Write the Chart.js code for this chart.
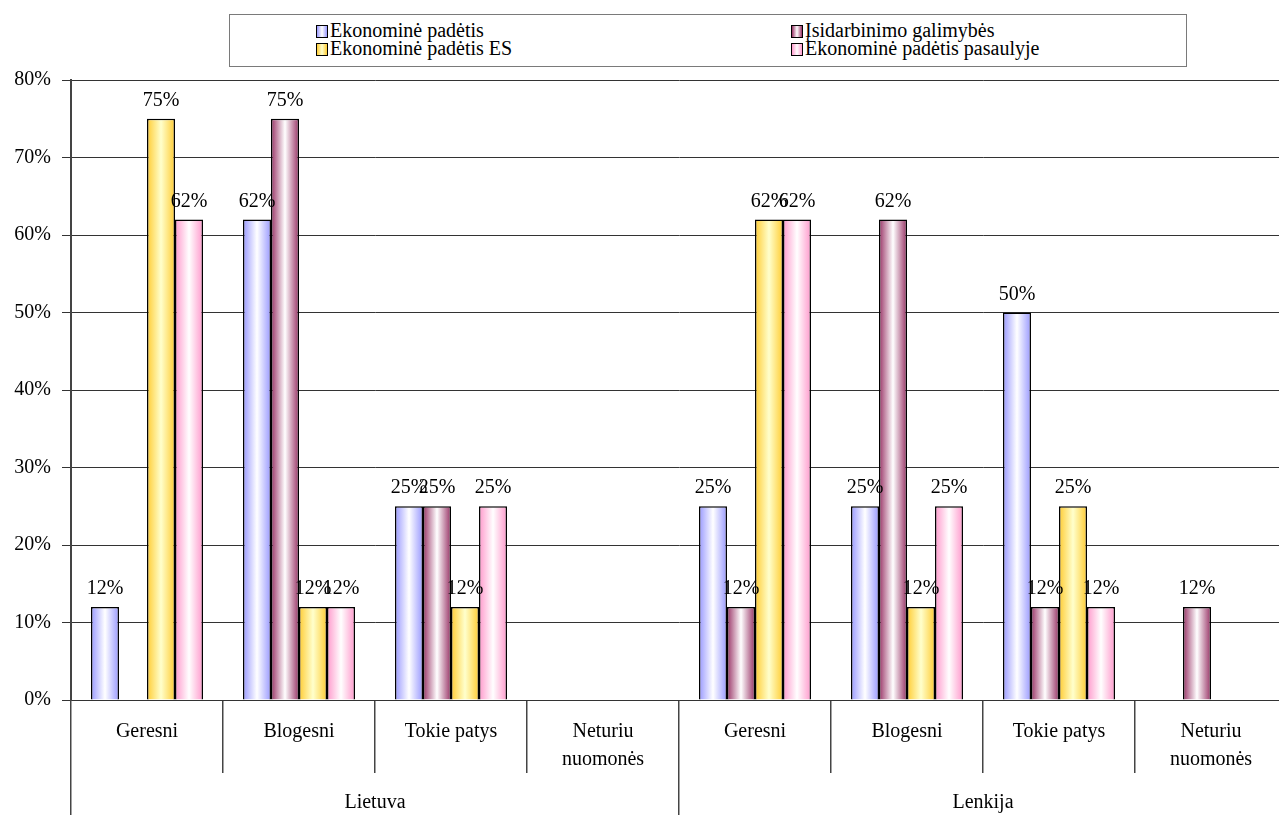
<!DOCTYPE html>
<html lang="lt">

<head>
    <meta charset="UTF-8">
    <title>Ekonominė padėtis</title>
    <script src="https://cdn.jsdelivr.net/npm/chart.js"></script>
    <style>
        body { margin: 0; overflow: hidden; background: #fff; }
        #wrap { position: relative; width: 1290px; height: 815px; }
        #legend {
            position: absolute; left: 229px; top: 14px; width: 956px; height: 51px;
            border: 1px solid #7a7a7a; background: #fff;
            font-family: "Liberation Serif", "Times New Roman", serif; font-size: 20px;
        }
        .item { position: absolute; height: 18px; line-height: 18px; white-space: nowrap; }
        .sw { display: inline-block; width: 10px; height: 11px; border: 1.5px solid #000; margin-right: 2px; vertical-align: -1px; }
    </style>
</head>

<body>
    <div id="wrap">
        <canvas id="chart" width="1290" height="815"></canvas>
        <div id="legend"></div>
    </div>

    <script>
        // kategorijos (apatinė ašis) ir šalys
        const categories = ['Geresni', 'Blogesni', 'Tokie patys', ['Neturiu', 'nuomonės'],
            'Geresni', 'Blogesni', 'Tokie patys', ['Neturiu', 'nuomonės']];
        const countries = ['Lietuva', 'Lenkija'];

        const seriesNames = ['Ekonominė padėtis', 'Įsidarbinimo galimybės', 'Ekonominė padėtis ES', 'Ekonominė padėtis pasaulyje'];

        // reikšmės procentais (null = nėra stulpelio)
        const ekonomine = [12, 62, 25, null, 25, 25, 50, null];
        const isidarbinimo = [null, 75, 25, null, 12, 62, 12, 12];
        const ekonomineES = [75, 12, 12, null, 62, 12, 25, null];
        const pasaulyje = [62, 12, 25, null, 62, 25, 12, null];

        const yTicks = [0, 10, 20, 30, 40, 50, 60, 70, 80];

        // spalvos: kraštas ir vidurys
        const edgeColors = ['#9999ff', '#993366', '#ffcc33', '#ff99cc'];
        const midColors = ['#ffffff', '#ffffff', '#ffffcc', '#ffffff'];

        const font = '"Liberation Serif", "Times New Roman", serif';

        function barFill(i) {
            return function (ctx) {
                const el = ctx.element;
                if (!el || el.x === undefined || !el.width || isNaN(el.x)) return edgeColors[i];
                const g = ctx.chart.ctx.createLinearGradient(el.x - el.width / 2, 0, el.x + el.width / 2, 0);
                g.addColorStop(0, edgeColors[i]);
                g.addColorStop(0.5, midColors[i]);
                g.addColorStop(1, edgeColors[i]);
                return g;
            };
        }

        const allSeries = [ekonomine, isidarbinimo, ekonomineES, pasaulyje];

        const data = {
            labels: categories,
            datasets: allSeries.map(function (vals, i) {
                return {
                    label: seriesNames[i],
                    data: vals,
                    backgroundColor: barFill(i),
                    borderColor: '#000',
                    borderWidth: 1.5,
                    borderSkipped: 'bottom',
                    categoryPercentage: 0.737,
                    barPercentage: 1
                };
            })
        };

        // reikšmių užrašai virš stulpelių
        const valueLabels = {
            id: 'valueLabels',
            afterDatasetsDraw(chart) {
                const c = chart.ctx;
                c.save();
                c.font = '20px ' + font;
                c.fillStyle = '#000';
                c.textAlign = 'center';
                c.textBaseline = 'alphabetic';
                chart.data.datasets.forEach(function (ds, i) {
                    chart.getDatasetMeta(i).data.forEach(function (bar, j) {
                        if (ds.data[j] === null) return;
                        c.fillText(ds.data[j] + '%', bar.x, bar.y - 13);
                    });
                });
                c.restore();
            }
        };

        const chart = new Chart(document.getElementById('chart'), {
            type: 'bar',
            data: data,
            plugins: [valueLabels],
            options: {
                responsive: false,
                animation: false,
                layout: { padding: { top: 80, right: 3, left: 0, bottom: 0 } },
                plugins: { legend: { display: false }, tooltip: { enabled: false } },
                scales: {
                    x: {
                        grid: { offset: true, drawOnChartArea: false, tickLength: 73, color: '#444', lineWidth: 1.5 },
                        border: { display: true, color: '#333', width: 1 },
                        ticks: { font: { family: font, size: 20, lineHeight: 1.4 }, color: '#000', padding: -55, maxRotation: 0, autoSkip: false },
                        afterFit: function (s) { s.height = 73; }
                    },
                    x2: {
                        type: 'category',
                        labels: countries,
                        position: 'bottom',
                        offset: true,
                        grid: { offset: true, drawOnChartArea: false, tickLength: 42, color: '#444', lineWidth: 1.5 },
                        border: { display: false },
                        ticks: { font: { family: font, size: 20 }, color: '#000', padding: -24, maxRotation: 0 },
                        afterFit: function (s) { s.height = 42; }
                    },
                    y: {
                        min: 0,
                        max: 80,
                        afterBuildTicks: function (s) { s.ticks = yTicks.map(function (v) { return { value: v }; }); },
                        grid: { color: '#333', lineWidth: 1, tickLength: 9 },
                        border: { color: '#444', width: 2 },
                        ticks: {
                            font: { family: font, size: 20 }, color: '#000', padding: 11,
                            callback: function (v) { return v + '%'; }
                        },
                        afterFit: function (s) { s.width = 71; }
                    }
                }
            }
        });
        // antras atnaujinimas, kad gradientai gautų stulpelių koordinates
        chart.update();

        // legenda
        const legend = document.getElementById('legend');
        const pos = [[86, 6], [561, 6], [86, 24], [561, 24]];
        seriesNames.forEach(function (name, i) {
            const d = document.createElement('div');
            d.className = 'item';
            d.style.left = pos[i][0] + 'px';
            d.style.top = pos[i][1] + 'px';
            const sw = document.createElement('span');
            sw.className = 'sw';
            sw.style.background = 'linear-gradient(to right,' + edgeColors[i] + ',' + midColors[i] + ',' + edgeColors[i] + ')';
            d.appendChild(sw);
            d.appendChild(document.createTextNode(name));
            legend.appendChild(d);
        });
    </script>
</body>

</html>
